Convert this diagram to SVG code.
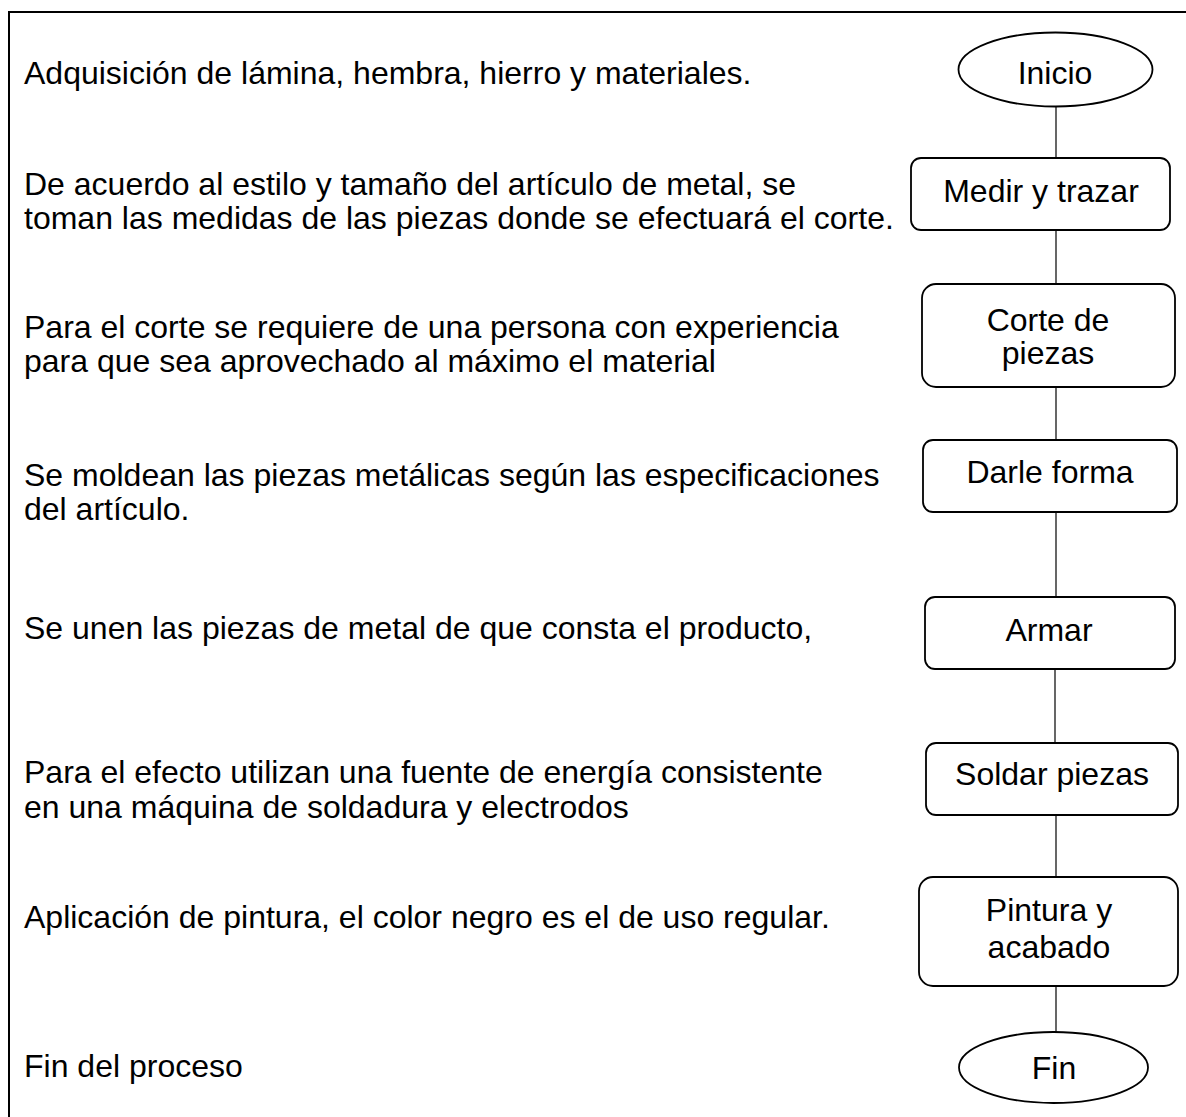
<svg xmlns="http://www.w3.org/2000/svg" width="1186" height="1117" viewBox="0 0 1186 1117">
<style>
  .t { font-family: "Liberation Sans", Arial, sans-serif; font-size: 32px; fill: #000; }
  .c { text-anchor: middle; }
  .box { fill: #fff; stroke: #000; stroke-width: 1.8; }
  .conn { stroke: #000; stroke-width: 1.2; fill: none; }
  .frame { stroke: #000; stroke-width: 2; fill: none; }
</style>
<rect width="1186" height="1117" fill="#fff"/>
<path class="frame" d="M1186 12 H9 V1117"/>
<g id="descriptions">
  <text class="t" x="24" y="84">Adquisición de lámina, hembra, hierro y materiales.</text>
  <text class="t" x="24" y="195">De acuerdo al estilo y tamaño del artículo de metal, se</text>
  <text class="t" x="24" y="229">toman las medidas de las piezas donde se efectuará el corte.</text>
  <text class="t" x="24" y="338">Para el corte se requiere de una persona con experiencia</text>
  <text class="t" x="24" y="372">para que sea aprovechado al máximo el material</text>
  <text class="t" x="24" y="486">Se moldean las piezas metálicas según las especificaciones</text>
  <text class="t" x="24" y="520">del artículo.</text>
  <text class="t" x="24" y="639">Se unen las piezas de metal de que consta el producto,</text>
  <text class="t" x="24" y="783">Para el efecto utilizan una fuente de energía consistente</text>
  <text class="t" x="24" y="818">en una máquina de soldadura y electrodos</text>
  <text class="t" x="24" y="928">Aplicación de pintura, el color negro es el de uso regular.</text>
  <text class="t" x="24" y="1077">Fin del proceso</text>
</g>
<g id="connectors">
  <line class="conn" x1="1056" y1="107" x2="1056" y2="158"/>
  <line class="conn" x1="1056" y1="230" x2="1056" y2="284"/>
  <line class="conn" x1="1056" y1="387" x2="1056" y2="440"/>
  <line class="conn" x1="1056" y1="512" x2="1056" y2="597"/>
  <line class="conn" x1="1055" y1="669" x2="1055" y2="743"/>
  <line class="conn" x1="1056" y1="815" x2="1056" y2="877"/>
  <line class="conn" x1="1056" y1="986" x2="1056" y2="1032"/>
</g>
<g id="inicio">
  <ellipse class="box" cx="1055.5" cy="69.5" rx="97" ry="37"/>
  <text class="t c" x="1055" y="84">Inicio</text>
</g>
<g id="medir">
  <rect class="box" x="911" y="158" width="259" height="72" rx="10"/>
  <text class="t c" x="1041" y="202">Medir y trazar</text>
</g>
<g id="corte">
  <rect class="box" x="922" y="284" width="253" height="103" rx="14"/>
  <text class="t c" x="1048" y="331">Corte de</text>
  <text class="t c" x="1048" y="364">piezas</text>
</g>
<g id="darle">
  <rect class="box" x="923" y="440" width="254" height="72" rx="10"/>
  <text class="t c" x="1050" y="483">Darle forma</text>
</g>
<g id="armar">
  <rect class="box" x="925" y="597" width="250" height="72" rx="10"/>
  <text class="t c" x="1049" y="641">Armar</text>
</g>
<g id="soldar">
  <rect class="box" x="926" y="743" width="252" height="72" rx="10"/>
  <text class="t c" x="1052" y="785">Soldar piezas</text>
</g>
<g id="pintura">
  <rect class="box" x="919" y="877" width="259" height="109" rx="14"/>
  <text class="t c" x="1049" y="921">Pintura y</text>
  <text class="t c" x="1049" y="958">acabado</text>
</g>
<g id="fin">
  <ellipse class="box" cx="1053.5" cy="1067.5" rx="94.5" ry="35.5"/>
  <text class="t c" x="1054" y="1079">Fin</text>
</g>
</svg>
